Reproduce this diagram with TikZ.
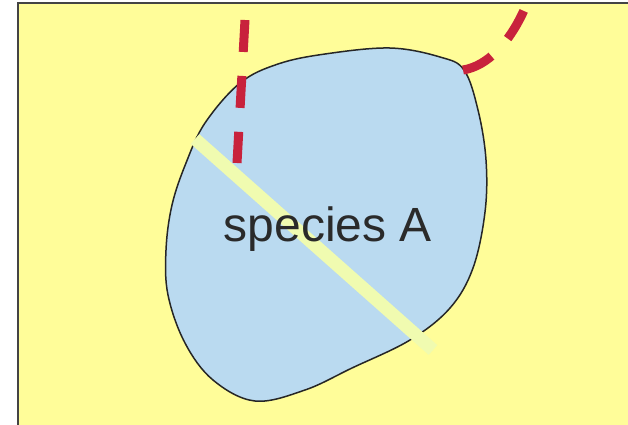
\documentclass[tikz,border=0pt]{standalone}
\usepackage{fontspec}
\setmainfont{Liberation Sans}
\definecolor{bgyellow}{HTML}{FFFD99}
\definecolor{blobblue}{HTML}{BADAF0}
\definecolor{bandgreen}{HTML}{F0FBB0}
\definecolor{redline}{HTML}{C8223C}
\definecolor{framegray}{HTML}{444444}
\definecolor{textgray}{HTML}{2A2A2A}
\tikzset{
  frame/.style={fill=bgyellow, draw=framegray, line width=1.5pt},
  blob/.style={fill=blobblue, draw=black!85, line width=1.5pt},
  band/.style={draw=bandgreen, line width=13pt, line cap=butt},
  redd/.style={draw=redline, line width=9pt, dash pattern=on 32pt off 24pt, line cap=butt},
  lbl/.style={text=textgray, font=\fontsize{48pt}{52pt}\selectfont, inner sep=0pt, anchor=base}
}
\begin{document}
\begin{tikzpicture}[x=1pt,y=-1pt]
\useasboundingbox (0,0) rectangle (628,424);
\fill[white] (0,0) rectangle (628,424);
\path[frame] (18,3) -- (640,3) -- (640,440) -- (18,440) -- cycle;
\path[blob] plot[smooth cycle, tension=0.6] coordinates {
  (464,70) (478,110) (486,160) (485,212) (473,268) (450,308) (410,340)
  (352,368) (305,390) (255,401) (213,380) (185,343) (168,295) (166,250)
  (172,205) (186,163) (205,123) (240,83) (278,64) (325,54) (390,48) (440,57)};
\draw[band] (195,139) -- (433,350);
\node[lbl] (species) at (328,241) {species A};
\coordinate (r1a) at (245,20);
\coordinate (r1b) at (237,163);
\draw[redd] (r1a) -- (r1b);
\coordinate (r2a) at (463,70);
\coordinate (r2b) at (525,8);
\draw[redd] (r2a) .. controls (488,66) and (510,42) .. (r2b);
\end{tikzpicture}
\end{document}
